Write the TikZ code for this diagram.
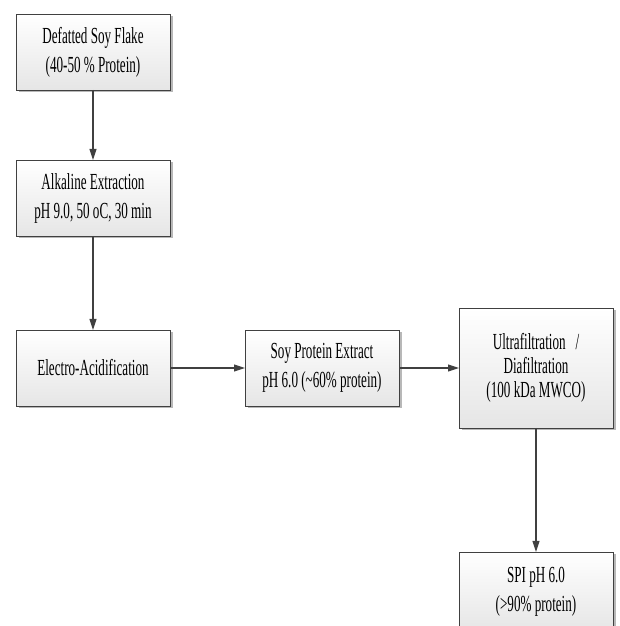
\documentclass[tikz,border=0pt]{standalone}
\usepackage{fontspec}
\newfontfamily\boxfont[FakeStretch=0.57]{Liberation Serif}
\usepackage{tikz}
\usetikzlibrary{positioning, arrows.meta, shadows}

\begin{document}
\begin{tikzpicture}[x=1pt, y=1pt,
  box/.style={draw=black!75, line width=0.8pt, align=center, outer sep=0pt,
              minimum width=154pt, minimum height=76pt,
              top color=white, bottom color=black!10,
              drop shadow={shadow xshift=2.5pt, shadow yshift=-2.5pt, fill=black!28, opacity=1},
              font=\boxfont\fontsize{23}{29}\selectfont},
  arrow/.style={-{Triangle[length=11pt, width=7pt]}, line width=1.1pt, draw=black!75},
  node distance=70pt and 75pt]
  \clip (0,0) rectangle (619,626);
  \node[box] (flake) at (93,574) {Defatted Soy Flake\\(40-50 \% Protein)};
  \node[box, below=of flake] (alkaline) {Alkaline Extraction\\pH 9.0, 50 oC, 30 min};
  \node[box, below=94pt of alkaline] (acid) {Electro-Acidification};
  \node[box, right=of acid] (extract) {Soy Protein Extract\\pH 6.0 (\textasciitilde60\% protein)};
  \node[box, minimum height=120pt, right=60pt of extract, font=\boxfont\fontsize{23}{24}\selectfont]
    (ultra) {Ultrafiltration\ \ \ /\\Diafiltration\\(100 kDa MWCO)};
  \node[box, minimum height=80pt, below=124pt of ultra] (spi) {SPI pH 6.0\\(>90\% protein)};
  \draw[arrow] (flake.south) -- (alkaline.north);
  \draw[arrow] (alkaline.south) -- (acid.north);
  \draw[arrow] (acid.east) -- (extract.west);
  \draw[arrow] (extract.east) -- (ultra.west);
  \draw[arrow] (ultra.south) -- (spi.north);
\end{tikzpicture}
\end{document}
